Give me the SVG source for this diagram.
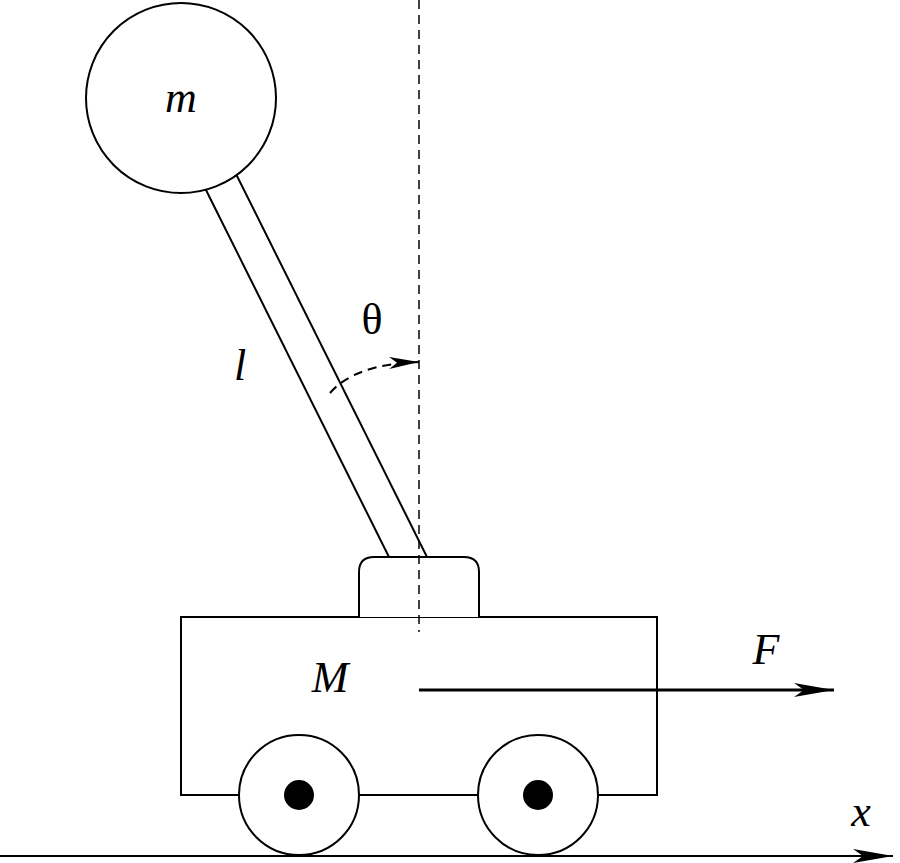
<svg xmlns="http://www.w3.org/2000/svg" width="900" height="863" viewBox="0 0 900 863">
<style>
.s{fill:none;stroke:#000;stroke-width:2}
.w{fill:#fff;stroke:#000;stroke-width:2}
.t{font-family:"Liberation Serif",serif;font-style:italic;font-size:44px;fill:#000;text-anchor:middle}
</style>
<defs>
<marker id="a" markerWidth="30" markerHeight="12" refX="30" refY="6" orient="auto" markerUnits="userSpaceOnUse"><path d="M0,0 L30,6 L0,12 L8,6 Z" fill="#000"/></marker>
<marker id="b" markerWidth="40" markerHeight="14" refX="40" refY="7" orient="auto" markerUnits="userSpaceOnUse"><path d="M0,0 L40,7 L0,14 L10,7 Z" fill="#000"/></marker>
</defs>
<rect width="900" height="863" fill="#fff"/>
<g id="ground"><line class="s" x1="0" y1="856" x2="893" y2="856" marker-end="url(#b)"/><text class="t" x="861" y="826">x</text></g>
<g id="cart"><rect class="s" x="181" y="617" width="476" height="178"/><text class="t" x="330" y="692">M</text></g>
<g id="cap"><path class="w" d="M359,617 V572 Q359,557 374,557 H464 Q479,557 479,572 V617"/></g>
<g id="wheel1"><circle class="w" cx="299" cy="795" r="60"/><circle cx="299" cy="795" r="15"/></g>
<g id="wheel2"><circle class="w" cx="538" cy="795" r="60"/><circle cx="538" cy="795" r="15"/></g>
<g id="rod"><line class="s" x1="205" y1="188" x2="389" y2="557"/><line class="s" x1="236" y1="174" x2="427" y2="557"/><text class="t" x="240" y="380">l</text></g>
<g id="ball"><circle class="w" cx="181" cy="98" r="95"/><text class="t" x="181" y="112">m</text></g>
<g id="connectors">
<line x1="419" y1="0" x2="419" y2="632" stroke="#000" stroke-width="1.5" stroke-dasharray="9,6"/>
<path d="M330,393 Q355,364 419,362" fill="none" stroke="#000" stroke-width="2" stroke-dasharray="9,6" marker-end="url(#a)"/>
<line x1="419" y1="690" x2="834" y2="690" stroke="#000" stroke-width="3" marker-end="url(#b)"/>
</g>
<text x="372" y="334" font-family="Liberation Serif,serif" font-size="44" text-anchor="middle">θ</text>
<text class="t" x="766" y="664">F</text>
</svg>
